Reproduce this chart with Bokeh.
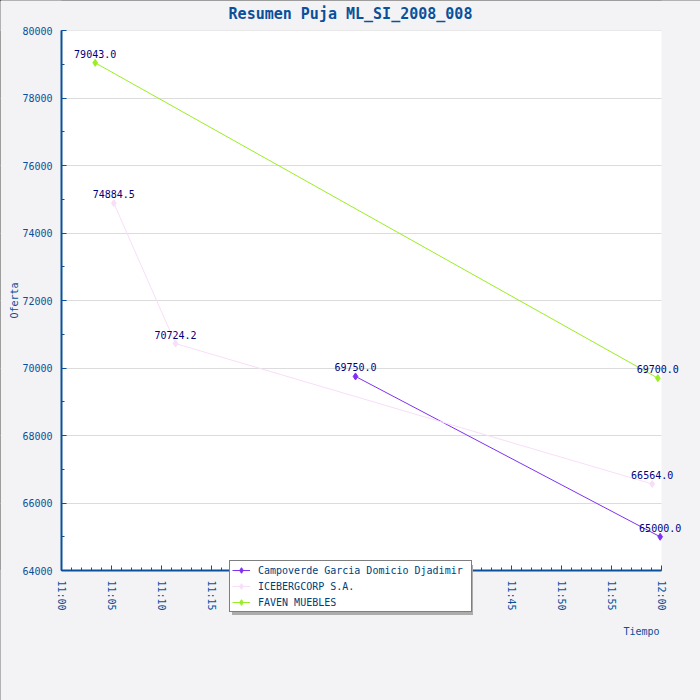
import pandas as pd
from bokeh.plotting import figure
from bokeh.core.properties import value
from bokeh.models import (Range1d, SingleIntervalTicker, DatetimeTickFormatter, BoxAnnotation,
                          ColumnDataSource, LabelSet, Label, Legend, LegendItem)
from bokeh.embed import file_html
from bokeh.resources import INLINE

# ---- data ----
DAY = "2008-01-01 "
title_text = "Resumen Puja ML_SI_2008_008"
series_names = ["Campoverde Garcia Domicio Djadimir", "ICEBERGCORP S.A.", "FAVEN MUEBLES"]
campo_times = ["11:29:24", "11:59:52"]
campo_vals = [69750.0, 65000.0]
ice_times = ["11:05:14", "11:11:24", "11:59:04"]
ice_vals = [74884.5, 70724.2, 66564.0]
faven_times = ["11:03:22", "11:59:38"]
faven_vals = [79043.0, 69700.0]
colors = ["#7f30f2", "#f8def8", "#9aee22"]
y_min, y_max = 64000, 80000
t_start, t_end = "11:00:00", "12:00:00"
hidden_ticks = ["11:20:00", "11:25:00", "11:30:00", "11:35:00", "11:40:00"]  # under legend

BLUE = "#0a509a"
GRAY = "#f3f3f5"
MONO = "DejaVu Sans Mono"

T0 = pd.Timestamp(DAY + t_start)
T1 = pd.Timestamp(DAY + t_end)
ms = lambda t: t.value / 1e6

# The frame covers the whole canvas; the white plotting area
# (61..661 x 30..570 px) is bounded by fixed-location axes and gray boxes.
W, H = 700, 700
PL, PR, PT, PB = 61, 661, 30, 570          # white area edges (px)
px_per_ms = (PR - PL) / (ms(T1) - ms(T0))
px_per_val = (PB - PT) / (y_max - y_min)
x_start = ms(T0) - PL / px_per_ms
x_end = ms(T1) + (W - PR) / px_per_ms
y_start = y_min - (H - PB) / px_per_val
y_end = y_max + PT / px_per_val

p = figure(width=W, height=H, output_backend="svg", toolbar_location=None,
           x_axis_type="datetime",
           x_range=Range1d(x_start, x_end), y_range=Range1d(y_start, y_end),
           min_border_left=0, min_border_right=0, min_border_top=0, min_border_bottom=0)
p.border_fill_color = GRAY
p.background_fill_color = "white"
p.outline_line_color = None
p.styles = {"outline": "2px solid black", "outline-offset": "-2px"}

# gray areas outside the white plotting area (drawn over the grid)
for kw in (dict(top=y_min), dict(bottom=y_max), dict(left=ms(T1)), dict(right=ms(T0))):
    p.add_layout(BoxAnnotation(fill_color=GRAY, fill_alpha=1, line_color=None,
                               level="underlay", **kw))

# axes
xa = p.xaxis[0]
xa.ticker = SingleIntervalTicker(interval=5 * 60 * 1000, num_minor_ticks=5)
xa.formatter = DatetimeTickFormatter(seconds="%H:%M", minsec="%H:%M", minutes="%H:%M",
                                     hourmin="%H:%M", hours="%H:%M")
xa.major_label_overrides = {ms(pd.Timestamp(DAY + t)): "" for t in hidden_ticks}
xa.major_label_orientation = "vertical"
xa.fixed_location = y_min
xa.bounds = (ms(T0), ms(T1))
ya = p.yaxis[0]
ya.ticker = SingleIntervalTicker(interval=2000, num_minor_ticks=2)
ya.fixed_location = ms(T0)
ya.bounds = (y_min, y_max)
ya.axis_label = "Oferta"
ya.axis_label_standoff = -1
ya.axis_label_text_font_style = "normal"
for ax in (xa, ya):
    ax.axis_line_color = BLUE
    ax.axis_line_width = 2
    ax.major_tick_line_color = BLUE
    ax.minor_tick_line_color = BLUE
    ax.major_tick_in = 5
    ax.major_tick_out = 0
    ax.minor_tick_in = 3
    ax.minor_tick_out = 0
    ax.major_label_text_font = MONO
    ax.major_label_text_font_size = "10px"
    ax.major_label_text_color = BLUE
    ax.major_label_standoff = 9
    ax.axis_label_text_font = MONO
    ax.axis_label_text_font_size = "10px"
    ax.axis_label_text_color = BLUE
xa.major_label_standoff = 10

p.xgrid.grid_line_color = None
p.ygrid.grid_line_color = "#dcdcdc"
p.ygrid.ticker = ya.ticker

# series
all_series = [(campo_times, campo_vals), (ice_times, ice_vals), (faven_times, faven_vals)]
items = []
shadow_items = []
for name, (ts, vs), c in zip(series_names, all_series, colors):
    src = ColumnDataSource(dict(x=[ms(pd.Timestamp(DAY + t)) for t in ts], y=vs,
                                lab=[f"{v:.1f}" for v in vs]))
    lr = p.line("x", "y", source=src, line_color=c, line_width=1)
    sr = p.scatter("x", "y", source=src, marker="diamond", size=7, color=c)
    items.append(LegendItem(label=name, renderers=[lr, sr]))
    d = p.line(x=[], y=[], line_alpha=0)
    shadow_items.append(LegendItem(label=" ", renderers=[d]))
    p.add_layout(LabelSet(x="x", y="y", text="lab", source=src, text_align="center",
                          text_baseline="bottom", y_offset=5, text_font=value(MONO),
                          text_font_size="10px", text_color="#000080"))

common = dict(label_text_font=MONO, label_text_font_size="10px", glyph_width=18,
              glyph_height=14, label_height=14, label_width=211, label_standoff=8,
              spacing=2, padding=2, margin=0)
shadow = Legend(items=shadow_items, location=(232, 85), background_fill_color="#a8a8a8",
                border_line_alpha=0, label_text_alpha=0, **common)
legend = Legend(items=items, location=(229, 88), background_fill_color="white",
                background_fill_alpha=1, border_line_color="black", border_line_width=1,
                label_text_color="#00407a", **common)
p.add_layout(shadow)
p.add_layout(legend)

p.add_layout(Label(x=W / 2, y=H - 13, x_units="screen", y_units="screen", text=title_text,
                   text_align="center", text_baseline="middle", text_font=MONO,
                   text_font_size="15px", text_font_style="bold", text_color=BLUE))
p.add_layout(Label(x=659, y=H - 631, x_units="screen", y_units="screen", text="Tiempo",
                   text_align="right", text_baseline="middle", text_font=MONO,
                   text_font_size="10px", text_color=BLUE))

open("out.html", "w").write(file_html(p, INLINE))
